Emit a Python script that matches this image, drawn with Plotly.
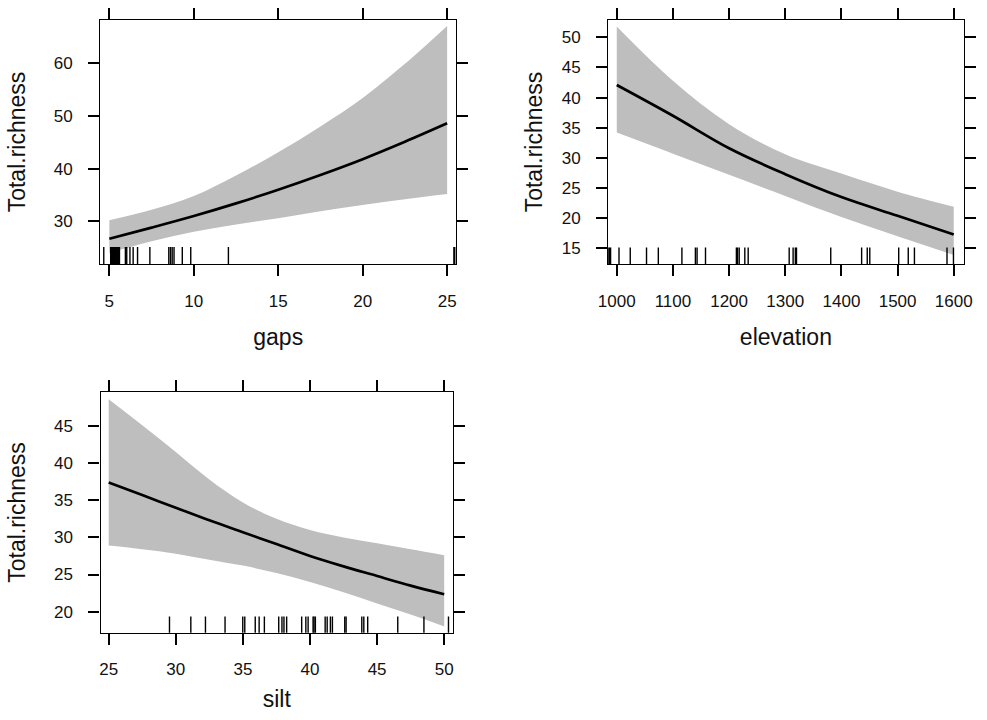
import plotly.graph_objects as go

# ---------------- data ----------------
gaps_x = [5, 7.5, 10, 12.5, 15, 17.5, 20, 22.5, 25]
gaps_fit = [26.7, 28.8, 31.0, 33.4, 36.0, 38.8, 41.8, 45.1, 48.6]
gaps_upper = [30.2, 32.2, 34.8, 38.7, 43.1, 48.0, 53.4, 59.9, 67.1]
gaps_lower = [24.0, 26.2, 28.0, 29.4, 30.6, 31.9, 33.1, 34.2, 35.2]
gaps_rug = [4.67, 5.08, 5.12, 5.16, 5.2, 5.24, 5.28, 5.32, 5.36, 5.4, 5.44,
            5.48, 5.52, 5.56, 5.6, 5.95, 6.03, 6.22, 6.41, 6.67,
            7.4, 8.52, 8.62, 8.72, 8.83, 9.32, 9.82, 12.05, 25.4, 25.45]

elev_x = [1000, 1100, 1200, 1300, 1400, 1500, 1600]
elev_fit = [42.1, 37.0, 31.6, 27.3, 23.5, 20.4, 17.3]
elev_upper = [51.8, 42.8, 35.6, 30.6, 27.4, 24.4, 21.9]
elev_lower = [34.2, 30.7, 27.2, 23.7, 20.2, 17.0, 13.9]
elev_rug = [985, 987, 989, 1004, 1024, 1053, 1074, 1116, 1140, 1143, 1158,
            1213, 1215, 1218, 1228, 1234, 1307, 1314, 1318, 1320, 1381, 1436,
            1446, 1450.5, 1502, 1519, 1530, 1588, 1599.5]

silt_x = [25, 27.5, 30, 32.5, 35, 37.5, 40, 42.5, 45, 47.5, 50]
silt_fit = [37.4, 35.7, 34.0, 32.3, 30.7, 29.1, 27.5, 26.1, 24.8, 23.5, 22.35]
silt_upper = [48.6, 45.1, 41.5, 37.8, 34.7, 32.5, 31.0, 30.0, 29.2, 28.4, 27.6]
silt_lower = [28.9, 28.4, 27.8, 27.0, 26.2, 25.2, 24.0, 22.6, 21.1, 19.6, 18.0]
silt_rug = [29.53, 31.12, 32.21, 33.67, 34.99, 35.14, 35.92, 36.21, 36.60,
            37.67, 37.91, 38.06, 38.26, 39.38, 39.69, 39.86, 40.23, 40.30,
            40.40, 41.13, 41.28, 41.52, 41.67, 42.59, 42.69, 43.86, 44.01,
            44.30, 46.54, 48.49, 50.32]

gaps_ticks = [5, 10, 15, 20, 25]
elev_ticks = [1000, 1100, 1200, 1300, 1400, 1500, 1600]
silt_ticks = [25, 30, 35, 40, 45, 50]
gaps_yticks = [30, 40, 50, 60]
elev_yticks = [15, 20, 25, 30, 35, 40, 45, 50]
silt_yticks = [20, 25, 30, 35, 40, 45]

# ---------------- style ----------------
FONT = "Liberation Sans, Arial, sans-serif"
BAND = "#bebebe"

fig = go.Figure()

panels = [
    ("x", "y", gaps_x, gaps_fit, gaps_upper, gaps_lower, gaps_rug, 0.07),
    ("x2", "y2", elev_x, elev_fit, elev_upper, elev_lower, elev_rug, 0.068),
    ("x3", "y3", silt_x, silt_fit, silt_upper, silt_lower, silt_rug, 0.067),
]

shapes = []
for xa, ya, xs, fit, up, lo, rug, rh in panels:
    fig.add_trace(go.Scatter(x=xs, y=lo, xaxis=xa, yaxis=ya, mode="lines",
                             line=dict(width=0, color=BAND, shape="spline"),
                             hoverinfo="skip", showlegend=False))
    fig.add_trace(go.Scatter(x=xs, y=up, xaxis=xa, yaxis=ya, mode="lines",
                             line=dict(width=0, color=BAND, shape="spline"),
                             fill="tonexty", fillcolor=BAND,
                             hoverinfo="skip", showlegend=False))
    fig.add_trace(go.Scatter(x=xs, y=fit, xaxis=xa, yaxis=ya, mode="lines",
                             line=dict(width=2.7, color="black", shape="spline"),
                             showlegend=False))
    yref = ya + " domain"
    for v in rug:
        shapes.append(dict(type="line", xref=xa, yref=yref, x0=v, x1=v,
                           y0=0, y1=rh, line=dict(color="black", width=1.4),
                           layer="above"))


def xax(domain, rng, ticks, title, anchor, standoff):
    return dict(domain=domain, range=rng, tickvals=ticks, anchor=anchor,
                showline=True, linecolor="black", linewidth=1.3, mirror="allticks",
                ticks="outside", ticklen=11, tickwidth=1.5, tickcolor="black",
                showgrid=False, zeroline=False, ticklabelstandoff=10,
                tickfont=dict(family=FONT, size=17, color="#111"),
                title=dict(text=title, standoff=standoff,
                           font=dict(family=FONT, size=23, color="#111")))


def yax(domain, rng, ticks, anchor, standoff):
    return dict(domain=domain, range=rng, tickvals=ticks, anchor=anchor,
                showline=True, linecolor="black", linewidth=1.3, mirror="allticks",
                ticks="outside", ticklen=11, tickwidth=1.5, tickcolor="black",
                showgrid=False, zeroline=False, ticklabelstandoff=12,
                tickfont=dict(family=FONT, size=17, color="#111"),
                title=dict(text="Total.richness", standoff=standoff,
                           font=dict(family=FONT, size=23, color="#111")))


fig.update_layout(
    width=987, height=720,
    margin=dict(l=0, r=0, t=0, b=0),
    paper_bgcolor="white", plot_bgcolor="white",
    showlegend=False,
    xaxis=xax([0.0932, 0.4610], [4.46, 25.54], gaps_ticks, "gaps", "y", 19),
    yaxis=yax([0.6333, 0.9722], [21.89, 68.22], gaps_yticks, "x", 21),
    xaxis2=xax([0.6180, 0.9851], [984.8, 1617.5], elev_ticks, "elevation", "y2", 19),
    yaxis2=yax([0.6333, 0.9722], [12.40, 52.87], elev_yticks, "x2", 12),
    xaxis3=xax([0.0935, 0.4577], [24.39, 50.66], silt_ticks, "silt", "y3", 12),
    yaxis3=yax([0.1213, 0.4551], [17.17, 49.54], silt_yticks, "x3", 21),
    shapes=shapes,
)

fig.write_html("out.html")
